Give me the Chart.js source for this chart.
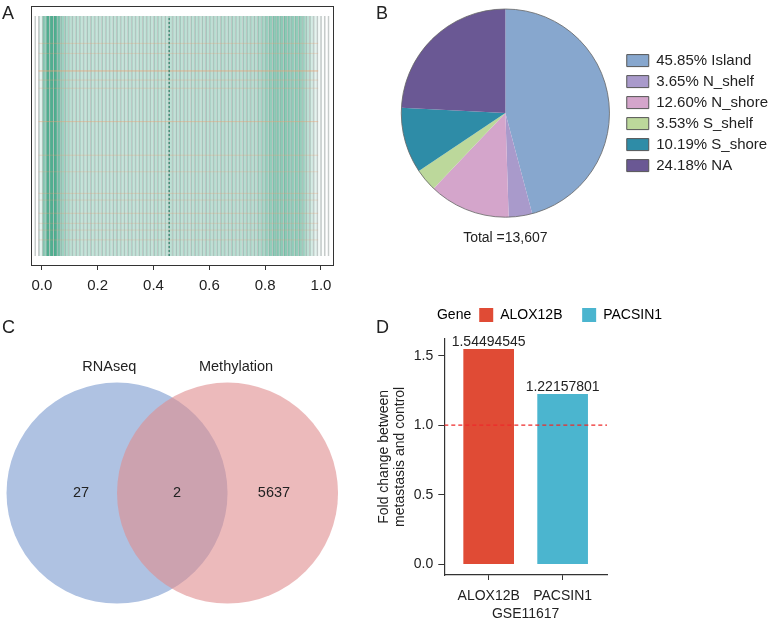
<!DOCTYPE html>
<html><head><meta charset="utf-8">
<script src="https://cdn.jsdelivr.net/npm/chart.js@4.4.1/dist/chart.umd.min.js"></script>
<style>
html,body{margin:0;padding:0;background:#fff;overflow:hidden;width:769px;height:620px;position:relative;}
canvas{position:absolute;}
.lbl{position:absolute;font:18px "Liberation Sans",Arial,sans-serif;color:#222;line-height:18px;}
</style></head><body>
<canvas id="cA" style="left:0;top:0" width="345" height="300"></canvas>
<canvas id="cB" style="left:385px;top:0" width="400" height="300"></canvas>
<canvas id="cC" style="left:0;top:300px" width="385" height="320"></canvas>
<canvas id="cD" style="left:376px;top:300px" width="326" height="323"></canvas>
<div class="lbl" style="left:2px;top:4px">A</div>
<div class="lbl" style="left:376px;top:4px">B</div>
<div class="lbl" style="left:2px;top:318px">C</div>
<div class="lbl" style="left:376px;top:318px">D</div>
<script>
// ---------- Panel A data (beta-value density heatmap) ----------
const betaTicks = [0, 0.2, 0.4, 0.6, 0.8, 1.0];
const binStart = -0.026;
const binWidth = 0.0133;
const binDensity = [
  0, 0.08, 0.35, 0.85, 0.85, 0.6, 0.42, 0.3, 0.24, 0.21,
  0.19, 0.19, 0.18, 0.18, 0.19, 0.18, 0.18, 0.19, 0.18, 0.18,
  0.18, 0.19, 0.18, 0.18, 0.18, 0.19, 0.18, 0.18, 0.19, 0.18,
  0.19, 0.18, 0.2, 0.19, 0.18, 0.19, 0.2, 0.19, 0.2, 0.19,
  0.2, 0.19, 0.2, 0.2, 0.19, 0.2, 0.2, 0.2, 0.21, 0.2,
  0.21, 0.2, 0.21, 0.21, 0.2, 0.21, 0.22, 0.21, 0.22, 0.22,
  0.24, 0.27, 0.31, 0.33, 0.34, 0.35, 0.35, 0.35, 0.34, 0.33,
  0.33, 0.32, 0.28, 0.2, 0.13, 0.08, 0.04, 0.01, 0, 0
];
const orangeRows = [88.6, 84.4, 77.1, 73.3, 69.9, 56, 42, 35.1, 26.1, 23.3, 17.8, 13.6, 10.8, 6.7];
const orangeStrength = [0.3, 0.25, 0.7, 0.3, 0.25, 0.45, 0.3, 0.25, 0.3, 0.25, 0.3, 0.25, 0.25, 0.25];
const meanBeta = 0.456;

// ---------- Panel B data (CpG region pie) ----------
const cpgRegions = ['Island', 'N_shelf', 'N_shore', 'S_shelf', 'S_shore', 'NA'];
const cpgPercent = [45.85, 3.65, 12.60, 3.53, 10.19, 24.18];
const cpgColors = ['#87a7ce', '#a99acb', '#d4a5cb', '#bcd89b', '#2e8ca7', '#6a5894'];
const cpgTotal = 13607;

// ---------- Panel C data (Venn) ----------
const vennSets = ['RNAseq', 'Methylation'];
const vennCounts = [27, 2, 5637];

// ---------- Panel D data (fold change bars) ----------
const genes = ['ALOX12B', 'PACSIN1'];
const foldChange = [1.54494545, 1.22157801];
const geneColors = ['#E04B35', '#4BB5CF'];
const fcTicks = [0, 0.5, 1.0, 1.5];
const fcThreshold = 1.0;
const fcDataset = 'GSE11617';

Chart.defaults.font.family = '"Liberation Sans", Arial, Helvetica, sans-serif';
Chart.defaults.color = '#222';
Chart.defaults.animation = false;

function frameAxis(pos, size, extra) {
  const horiz = pos === 'top' || pos === 'bottom';
  return Object.assign({
    type: 'linear', position: pos, display: true,
    ticks: { display: false }, grid: { display: false },
    border: { display: true, color: '#333', width: 1 },
    afterFit(s) { if (horiz) s.height = size; else s.width = size; }
  }, extra || {});
}

// ---------- Panel A ----------
new Chart(document.getElementById('cA'), {
  type: 'bar',
  data: {
    datasets: [
      {
        type: 'bar', order: 3,
        data: binDensity.map((d, i) => ({ x: binStart + (i + 0.5) * binWidth, y: [0, 100] })),
        backgroundColor: binDensity.map(d => 'rgba(50,160,125,' + Math.min(0.85, d * 1.6).toFixed(3) + ')'),
        borderColor: 'rgba(120,132,128,0.42)',
        borderWidth: { left: 1, right: 0, top: 0, bottom: 0 },
        borderSkipped: false,
        barPercentage: 1, categoryPercentage: 1
      },
      ...orangeRows.map((y, i) => ({
        type: 'line', order: 2,
        data: [{ x: -0.012, y: y }, { x: 0.99, y: y }],
        borderColor: 'rgba(236,160,110,' + orangeStrength[i] + ')',
        borderWidth: 1, pointRadius: 0
      })),
      {
        type: 'line', order: 1,
        data: [{ x: meanBeta, y: 0 }, { x: meanBeta, y: 100 }],
        borderColor: 'rgba(30,120,95,0.9)', borderWidth: 1.2, borderDash: [2, 2], pointRadius: 0
      }
    ]
  },
  options: {
    responsive: false, animation: false, events: [],
    layout: { autoPadding: false, padding: { left: 31, right: 12, top: 6, bottom: 0 } },
    plugins: { legend: { display: false }, tooltip: { enabled: false } },
    scales: {
      x: {
        type: 'linear', min: -0.039, max: 1.043, offset: false,
        afterBuildTicks(s) { s.ticks = betaTicks.map(v => ({ value: v })); },
        ticks: { font: { size: 15 }, color: '#222', padding: 7, maxRotation: 0, autoSkip: false,
                 callback: v => Number(v).toFixed(1) },
        grid: { display: true, drawOnChartArea: false, drawTicks: true, tickLength: 5, color: '#333', offset: false },
        border: { display: true, color: '#333', width: 1 },
        afterFit(s) { s.height = 35; }
      },
      xTop: frameAxis('top', 0, { min: -0.039, max: 1.043 }),
      y: frameAxis('left', 0, { min: -3.75, max: 104.17 }),
      yRight: frameAxis('right', 0, { min: -3.75, max: 104.17 })
    }
  }
});

// ---------- Panel B ----------
const pieOutline = {
  id: 'pieOutline',
  afterDatasetsDraw(chart) {
    const arc = chart.getDatasetMeta(0).data[0];
    if (!arc) return;
    const ctx = chart.ctx;
    ctx.save();
    ctx.beginPath();
    ctx.arc(arc.x, arc.y, arc.outerRadius, 0, Math.PI * 2);
    ctx.strokeStyle = '#666'; ctx.lineWidth = 0.8;
    ctx.stroke();
    ctx.restore();
  }
};
new Chart(document.getElementById('cB'), {
  type: 'pie',
  data: {
    labels: cpgRegions.map((r, i) => cpgPercent[i].toFixed(2) + '% ' + r),
    datasets: [{ data: cpgPercent, backgroundColor: cpgColors, borderWidth: 0 }]
  },
  options: {
    responsive: false, animation: false, events: [],
    layout: { autoPadding: false, padding: { left: 5, right: 7, top: 9, bottom: 53 } },
    plugins: {
      tooltip: { enabled: false },
      legend: {
        position: 'right', align: 'center', fullSize: false,
        labels: {
          boxWidth: 22, boxHeight: 12, padding: 6, font: { size: 15 }, color: '#222',
          generateLabels(chart) {
            return Chart.overrides.doughnut.plugins.legend.labels.generateLabels(chart)
              .map(it => Object.assign(it, { strokeStyle: '#555', lineWidth: 1 }));
          }
        }
      },
      title: {
        display: true, position: 'bottom', fullSize: false,
        text: 'Total =' + cpgTotal.toLocaleString('en-US'),
        font: { size: 14, weight: 'normal' }, color: '#222', padding: { top: 13, bottom: 0 }
      }
    }
  },
  plugins: [pieOutline]
});

// ---------- Panel C ----------
const vennLabelX = [-0.07, 1.077];
const vennLabelY = 1.14;
const vennCountX = [-0.326, 0.543, 1.42];
const vennText = {
  id: 'vennText',
  afterDatasetsDraw(chart) {
    const { ctx, scales: { x, y } } = chart;
    ctx.save();
    ctx.font = '14.5px "Liberation Sans", Arial, sans-serif';
    ctx.fillStyle = '#222'; ctx.textAlign = 'center'; ctx.textBaseline = 'middle';
    vennSets.forEach((s, i) => ctx.fillText(s, x.getPixelForValue(vennLabelX[i]), y.getPixelForValue(vennLabelY)));
    vennCounts.forEach((c, i) => ctx.fillText(String(c), x.getPixelForValue(vennCountX[i]), y.getPixelForValue(0)));
    ctx.restore();
  }
};
new Chart(document.getElementById('cC'), {
  type: 'bubble',
  data: {
    datasets: [
      { label: vennSets[0], order: 2, data: [{ x: 0, y: 0, r: 110.5 }], backgroundColor: 'rgb(175,194,226)', borderWidth: 0, clip: false },
      { label: vennSets[1], order: 1, data: [{ x: 1, y: 0, r: 110.5 }], backgroundColor: 'rgba(223,140,142,0.6)', borderWidth: 0, clip: false }
    ]
  },
  options: {
    responsive: false, animation: false, events: [],
    layout: { autoPadding: false, padding: 0 },
    plugins: { legend: { display: false }, tooltip: { enabled: false } },
    scales: {
      x: { type: 'linear', min: -1.059, max: 2.425, display: false },
      y: { type: 'linear', min: -1.149, max: 1.747, display: false }
    }
  },
  plugins: [vennText]
});

// ---------- Panel D ----------
const barValueLabels = {
  id: 'barValueLabels',
  afterDatasetsDraw(chart) {
    const meta = chart.getDatasetMeta(0);
    const ctx = chart.ctx;
    ctx.save();
    ctx.font = '14px "Liberation Sans", Arial, sans-serif';
    ctx.fillStyle = '#222'; ctx.textAlign = 'center'; ctx.textBaseline = 'alphabetic';
    meta.data.forEach((bar, i) => ctx.fillText(String(foldChange[i]), bar.x, bar.y - 3.5));
    ctx.restore();
  }
};
new Chart(document.getElementById('cD'), {
  type: 'bar',
  data: {
    datasets: [
      {
        type: 'bar', order: 2,
        data: genes.map((g, i) => ({ x: i + 1, y: foldChange[i] })),
        backgroundColor: geneColors, borderWidth: 0, barThickness: 50
      },
      {
        type: 'line', order: 1,
        data: [{ x: 0.4, y: fcThreshold }, { x: 2.6, y: fcThreshold }],
        borderColor: '#EE2A2A', borderWidth: 1.3, borderDash: [4, 3], pointRadius: 0
      }
    ]
  },
  options: {
    responsive: false, animation: false, events: [],
    layout: { autoPadding: false, padding: 0 },
    plugins: {
      tooltip: { enabled: false },
      legend: {
        position: 'top', align: 'center',
        labels: {
          boxWidth: 14, boxHeight: 14, padding: 8, font: { size: 14 }, color: '#222',
          generateLabels() {
            return [{ text: 'Gene', fillStyle: 'rgba(0,0,0,0)', strokeStyle: 'rgba(0,0,0,0)', lineWidth: 0, hidden: false }]
              .concat(genes.map((g, i) => ({
                text: i === 0 ? g + '   ' : g, fillStyle: geneColors[i], strokeStyle: geneColors[i], lineWidth: 0, hidden: false
              })));
          }
        }
      }
    },
    scales: {
      x: {
        type: 'linear', min: 0.4, max: 2.6, offset: false,
        afterBuildTicks(s) { s.ticks = genes.map((g, i) => ({ value: i + 1 })); },
        ticks: { font: { size: 14 }, color: '#222', padding: 8, autoSkip: false, maxRotation: 0,
                 callback: v => genes[Math.round(v) - 1] },
        grid: { display: true, drawOnChartArea: false, drawTicks: true, tickLength: 5, color: '#333', offset: false },
        border: { display: true, color: '#333', width: 1.2 },
        title: { display: true, text: fcDataset, font: { size: 14 }, color: '#222', padding: 0 },
        afterFit(s) { s.height = 48; }
      },
      y: {
        type: 'linear', min: -0.0772, max: 1.6222,
        afterBuildTicks(s) { s.ticks = fcTicks.map(v => ({ value: v })); },
        ticks: { font: { size: 14 }, color: '#222', padding: 5, callback: v => Number(v).toFixed(1) },
        grid: { display: true, drawOnChartArea: false, drawTicks: true, tickLength: 6, color: '#333' },
        border: { display: true, color: '#333', width: 1.2 },
        title: { display: true, text: ['Fold change between', 'metastasis and control'],
                 font: { size: 14, lineHeight: 1.15 }, color: '#222', padding: 0 },
        afterFit(s) { s.width = 68.3; }
      },
      xTop: frameAxis('top', 6.7, { border: { display: false } }),
      yRight: frameAxis('right', 95, { border: { display: false } })
    }
  },
  plugins: [barValueLabels]
});
</script>
</body></html>
